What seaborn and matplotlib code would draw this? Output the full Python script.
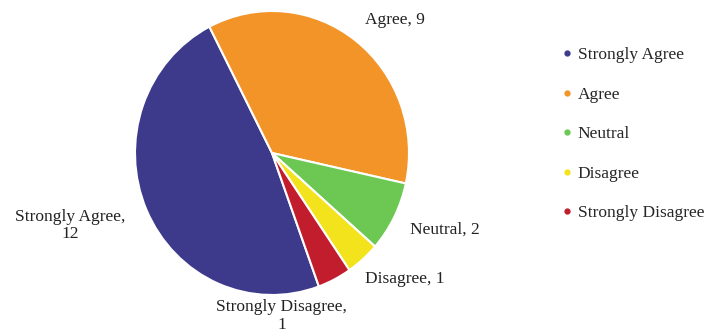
import matplotlib
matplotlib.use("Agg")
import matplotlib.pyplot as plt
from matplotlib.lines import Line2D
import seaborn as sns

# ===============================
# DATA
# ===============================
categories = ["Strongly Agree", "Agree", "Neutral", "Disagree", "Strongly Disagree"]
counts = [12, 9, 2, 1, 1]
pie_labels = ["Strongly Agree,\n12", "Agree, 9", "Neutral, 2", "Disagree, 1", "Strongly Disagree,\n1"]
colors = ["#3d3a8c", "#f29428", "#6cc852", "#f3e31c", "#c21d2c"]

# label positions in pie units (radius = 1)
label_pos = [(-1.47, -0.51), (0.90, 0.94), (1.26, -0.54), (0.97, -0.89), (0.07, -1.15)]

# ===============================
# STYLE
# ===============================
sns.set_theme(style="white")
plt.rcParams["font.family"] = ["Liberation Serif", "DejaVu Serif"]
palette = sns.color_palette(colors)

fig = plt.figure(figsize=(7.21, 3.36), dpi=100)
W, H = 721, 336
cx, cy, rx, ry = 272, 153, 137, 142
ax = fig.add_axes([(cx - rx) / W, (H - cy - ry) / H, 2 * rx / W, 2 * ry / H])

wedges, texts = ax.pie(
    counts,
    labels=pie_labels,
    colors=palette,
    startangle=-70,
    counterclock=False,
    wedgeprops=dict(edgecolor="white", linewidth=1.5),
    textprops=dict(fontsize=12.5, color="#222222"),
)
ax.set_aspect("auto")
ax.set_xlim(-1, 1)
ax.set_ylim(-1, 1)

for t, pos in zip(texts, label_pos):
    t.set_position(pos)
    t.set_ha("center")
    t.set_va("center")
    t.set_linespacing(1.15)

# ===============================
# LEGEND
# ===============================
handles = [Line2D([0], [0], marker="o", linestyle="", markersize=3.5,
                  markerfacecolor=c, markeredgecolor=c) for c in palette]
fig.legend(handles, categories, loc="upper left", bbox_to_anchor=(555 / W, 1 - 40 / H),
           frameon=False, fontsize=12.5, labelspacing=1.35, handlelength=0.6,
           handletextpad=0.3, borderaxespad=0)

fig.savefig("out.png", dpi=100)
